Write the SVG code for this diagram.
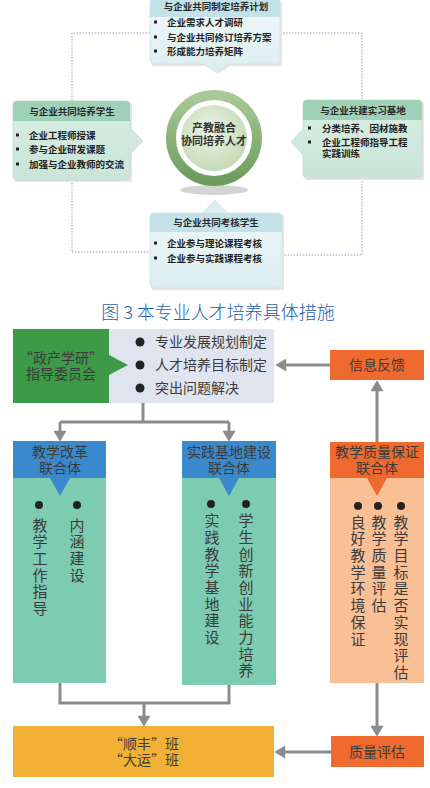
<svg xmlns="http://www.w3.org/2000/svg" width="430" height="788" viewBox="0 0 430 788">
<defs>
<linearGradient id="gBlue" x1="0" y1="0" x2="0" y2="1"><stop offset="0" stop-color="#f1f9f9"/><stop offset="1" stop-color="#dcedef"/></linearGradient>
<linearGradient id="gGreen" x1="0" y1="0" x2="0" y2="1"><stop offset="0" stop-color="#d9eee4"/><stop offset="1" stop-color="#c9e4d8"/></linearGradient>
<linearGradient id="gRing" x1="0" y1="0" x2="0" y2="1"><stop offset="0" stop-color="#a9c999"/><stop offset="1" stop-color="#6c9d5c"/></linearGradient>
<radialGradient id="gCore" cx="0.45" cy="0.4" r="0.6"><stop offset="0" stop-color="#eef4e6"/><stop offset="1" stop-color="#c6dab6"/></radialGradient>
<marker id="ah" markerUnits="userSpaceOnUse" markerWidth="12" markerHeight="13" viewBox="0 0 10 12" refX="2" refY="6" orient="auto"><path d="M0,0 L10,6 L0,12 Z" fill="#8c8c8c"/></marker>
</defs>
<style>
.t{font-family:"Noto Sans CJK SC","Noto Sans",sans-serif}
.top{font-size:9.5px;font-weight:bold;fill:#222}
.hd{font-size:9.5px;font-weight:bold;fill:#2a2a2a;text-anchor:middle}
.dot{fill:none;stroke:#8fa3c4;stroke-width:1;stroke-dasharray:1.5 1.5}
.arr{fill:none;stroke:#8c8c8c;stroke-width:3}
.lbl{font-size:14px;fill:#3b3b3b;text-anchor:middle}
.v{font-size:15px;fill:#3b3b3b;writing-mode:vertical-rl;letter-spacing:1.7px}
.sq{fill:#222}
</style>
<rect width="430" height="788" fill="#ffffff"/>

<g id="connectors">
<path class="dot" d="M150,33 H72 V101"/>
<path class="dot" d="M280,33 H362 V100"/>
<path class="dot" d="M72,180 V252 H150"/>
<path class="dot" d="M362,178 V255 H282"/>
<path class="arr" d="M330,365 H284" marker-end="url(#ah)"/>
<path class="arr" d="M377,442 V389" marker-end="url(#ah)"/>
<path class="arr" d="M143,403 V422"/>
<path class="arr" d="M60,422 H229"/>
<path class="arr" d="M60,422 V433" marker-end="url(#ah)"/>
<path class="arr" d="M229,422 V433" marker-end="url(#ah)"/>
<path class="arr" d="M60,683 V703 H229 V685"/>
<path class="arr" d="M144,703 V718" marker-end="url(#ah)"/>
<path class="arr" d="M377,683 V728" marker-end="url(#ah)"/>
<path class="arr" d="M331,752 H283" marker-end="url(#ah)"/>
</g>

<g id="plan">
<path d="M152,2 H282 V66 H230 L218,74 L206,66 H152 Z" fill="#e6e6e6"/>
<path d="M154,0 H276 Q280,0 280,4 V60 Q280,64 276,64 H228 L216,72 L204,64 H154 Q150,64 150,60 V4 Q150,0 154,0 Z" fill="url(#gBlue)" stroke="#d3e3e5" stroke-width="0.8"/>
<path d="M150,0 H280 V17 H150 Z" fill="#c2e2e7"/>
<text class="t hd" x="216" y="10">与企业共同制定培养计划</text>
<rect class="sq" x="154" y="20.5" width="3" height="3"/>
<rect class="sq" x="154" y="35.5" width="3" height="3"/>
<rect class="sq" x="154" y="49.5" width="3" height="3"/>
<text class="t top" x="167" y="25.5">企业需求人才调研</text>
<text class="t top" x="167" y="40.5">与企业共同修订培养方案</text>
<text class="t top" x="167" y="54.5">形成能力培养矩阵</text>
</g>

<g id="students">
<path d="M15,103 H132 V182 H15 Z" fill="#e6e6e6"/>
<path d="M17,101 H126 Q130,101 130,105 V128 L143,141 L130,154 V176 Q130,180 126,180 H17 Q13,180 13,176 V105 Q13,101 17,101 Z" fill="url(#gGreen)" stroke="#c6ddd2" stroke-width="0.8"/>
<path d="M17,101 H126 Q130,101 130,105 V121 H13 V105 Q13,101 17,101 Z" fill="#9fd0b8"/>
<text class="t hd" x="72" y="114.5">与企业共同培养学生</text>
<rect class="sq" x="16" y="133.5" width="3" height="3"/>
<rect class="sq" x="16" y="147.5" width="3" height="3"/>
<rect class="sq" x="16" y="162.5" width="3" height="3"/>
<text class="t top" x="29" y="138.5">企业工程师授课</text>
<text class="t top" x="29" y="152.5">参与企业研发课题</text>
<text class="t top" x="29" y="167.5">加强与企业教师的交流</text>
</g>

<g id="base">
<path d="M305,102 H424 V180 H305 Z" fill="#e6e6e6"/>
<path d="M307,100 H418 Q422,100 422,104 V174 Q422,178 418,178 H307 Q303,178 303,174 V155 L291,142 L303,129 V104 Q303,100 307,100 Z" fill="url(#gGreen)" stroke="#c6ddd2" stroke-width="0.8"/>
<path d="M307,100 H418 Q422,100 422,104 V120 H303 V104 Q303,100 307,100 Z" fill="#9fd0b8"/>
<text class="t hd" x="363" y="113.5">与企业共建实习基地</text>
<rect class="sq" x="308" y="126.5" width="3" height="3"/>
<rect class="sq" x="308" y="140.5" width="3" height="3"/>
<text class="t top" x="322" y="131.5">分类培养、因材施教</text>
<text class="t top" x="322" y="145.5">企业工程师指导工程<tspan x="322" dy="11.5">实践训练</tspan></text>
</g>

<g id="core">
<ellipse cx="214" cy="190" rx="34" ry="5" fill="#d4d4d4"/>
<circle cx="214" cy="138" r="43" fill="#ffffff" stroke="url(#gRing)" stroke-width="10"/>
<circle cx="214" cy="138" r="33" fill="url(#gCore)"/>
<text class="t" x="214" y="132" font-size="11" font-weight="bold" fill="#333" text-anchor="middle">产教融合<tspan x="214" dy="13">协同培养人才</tspan></text>
</g>

<g id="assess">
<path d="M152,215 H284 V290 H152 Z" fill="#e6e6e6"/>
<path d="M154,213 H202 L215,200 L228,213 H278 Q282,213 282,217 V284 Q282,288 278,288 H154 Q150,288 150,284 V217 Q150,213 154,213 Z" fill="url(#gBlue)" stroke="#d3e3e5" stroke-width="0.8"/>
<path d="M154,213 H278 Q282,213 282,217 V232 H150 V217 Q150,213 154,213 Z" fill="#c2e2e7"/>
<path d="M202,213 L215,200 L228,213 Z" fill="#dcedef"/>
<text class="t hd" x="216" y="225.5">与企业共同考核学生</text>
<rect class="sq" x="154" y="241.5" width="3" height="3"/>
<rect class="sq" x="154" y="256.5" width="3" height="3"/>
<text class="t top" x="167" y="246.5">企业参与理论课程考核</text>
<text class="t top" x="167" y="261.5">企业参与实践课程考核</text>
</g>

<text id="caption" class="t" x="218" y="319" font-size="18" font-weight="300" fill="#1f5fa6" text-anchor="middle">图 3 本专业人才培养具体措施</text>

<g id="committee">
<rect x="13" y="329" width="96" height="74" fill="#3d9a47"/>
<text class="t lbl" x="61" y="363">“政产学研”<tspan x="61" dy="16">指导委员会</tspan></text>
</g>

<g id="tasks">
<rect x="109" y="329" width="165" height="74" fill="#dfe4ef"/>
<path d="M109,355 L128,365 L109,375 Z" fill="#3d9a47"/>
<circle cx="140" cy="342" r="4.5" fill="#222"/>
<circle cx="140" cy="365" r="4.5" fill="#222"/>
<circle cx="140" cy="388" r="4.5" fill="#222"/>
<text class="t" x="155" y="347" font-size="14" fill="#3b3b3b">专业发展规划制定</text>
<text class="t" x="155" y="370" font-size="14" fill="#3b3b3b">人才培养目标制定</text>
<text class="t" x="155" y="393" font-size="14" fill="#3b3b3b">突出问题解决</text>
</g>

<g id="feedback">
<rect x="330" y="350" width="94" height="30" fill="#ef6a2e"/>
<text class="t lbl" x="377" y="370">信息反馈</text>
</g>

<g id="reform">
<rect x="13" y="478" width="93" height="205" fill="#7dcbb1"/>
<rect x="13" y="441" width="93" height="37" fill="#3a89cc"/>
<path d="M50,478 L70,478 L60,496 Z" fill="#3a89cc"/>
<text class="t lbl" x="60" y="457">教学改革<tspan x="60" dy="16">联合体</tspan></text>
<circle cx="39" cy="505" r="4" fill="#222"/>
<circle cx="77" cy="505" r="4" fill="#222"/>
<text class="t v" x="40" y="517.5">教学工作指导</text>
<text class="t v" x="77" y="517.5">内涵建设</text>
</g>

<g id="practice">
<rect x="182" y="478" width="94" height="207" fill="#7dcbb1"/>
<rect x="182" y="441" width="94" height="37" fill="#3a89cc"/>
<path d="M219,478 L239,478 L229,496 Z" fill="#3a89cc"/>
<text class="t lbl" x="229" y="457">实践基地建设<tspan x="229" dy="16">联合体</tspan></text>
<circle cx="211" cy="504" r="4" fill="#222"/>
<circle cx="246" cy="504" r="4" fill="#222"/>
<text class="t v" x="212" y="513">实践教学基地建设</text>
<text class="t v" x="246" y="513">学生创新创业能力培养</text>
</g>

<g id="quality">
<rect x="330" y="478" width="94" height="205" fill="#f9bf95"/>
<rect x="330" y="442" width="94" height="36" fill="#ef6a2e"/>
<path d="M367,478 L387,478 L377,496 Z" fill="#ef6a2e"/>
<text class="t lbl" x="377" y="457">教学质量保证<tspan x="377" dy="16">联合体</tspan></text>
<circle cx="358" cy="506" r="4" fill="#222"/>
<circle cx="378" cy="506" r="4" fill="#222"/>
<circle cx="401" cy="506" r="4" fill="#222"/>
<text class="t v" x="358" y="514.5">良好教学环境保证</text>
<text class="t v" x="379" y="514.5">教学质量评估</text>
<text class="t v" x="401" y="514.5">教学目标是否实现评估</text>
</g>

<g id="classes">
<rect x="13" y="726" width="261" height="51" fill="#f2b134"/>
<text class="t lbl" x="144" y="749">“顺丰”班<tspan x="144" dy="16">“大运”班</tspan></text>
</g>

<g id="evaluation">
<rect x="331" y="736" width="93" height="31" fill="#ef6a2e"/>
<text class="t lbl" x="377" y="757">质量评估</text>
</g>
</svg>
